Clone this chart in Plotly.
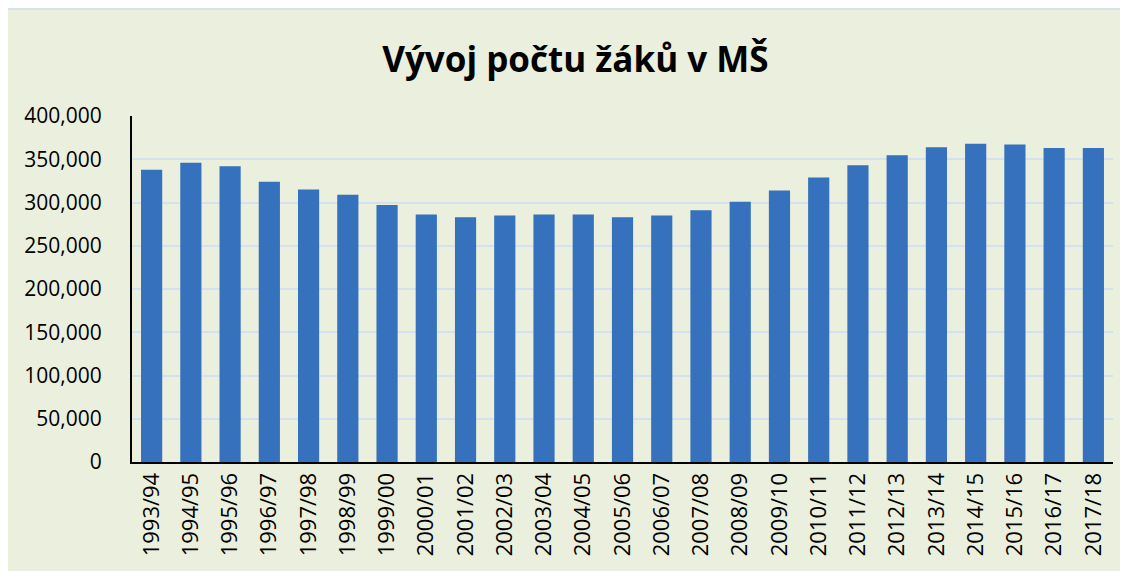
import plotly.graph_objects as go

# school years and number of pupils in kindergartens (MŠ)
years = ["1993/94", "1994/95", "1995/96", "1996/97", "1997/98", "1998/99", "1999/00",
         "2000/01", "2001/02", "2002/03", "2003/04", "2004/05", "2005/06", "2006/07",
         "2007/08", "2008/09", "2009/10", "2010/11", "2011/12", "2012/13", "2013/14",
         "2014/15", "2015/16", "2016/17", "2017/18"]
pupils = [338000, 346000, 342000, 324000, 315000, 309000, 297000,
          286000, 283000, 285000, 286000, 286000, 283000, 285000,
          291000, 301000, 314000, 329000, 343000, 354500, 364000,
          368000, 367000, 363000, 363000]
y_ticks = [0, 50000, 100000, 150000, 200000, 250000, 300000, 350000, 400000]

BG = "#EBEFDE"
FONT = "Open Sans"

fig = go.Figure()
fig.add_trace(go.Bar(
    x=years, y=pupils,
    marker=dict(color="#3571BC", line=dict(width=0)),
    hoverinfo="x+y",
))

# chart box (page-embedded chart frame)
fig.add_shape(type="rect", xref="paper", yref="paper", layer="below",
              x0=-0.1274, x1=1.05, y0=-0.4, y1=1.309,
              fillcolor=BG, line=dict(color="#D6E2F0", width=2))

fig.update_layout(
    width=1128, height=571,
    margin=dict(l=124, r=23, t=108, b=117),
    paper_bgcolor="white", plot_bgcolor=BG,
    title=dict(text="<b>Vývoj počtu žáků v MŠ</b>", x=0.503, xanchor="center",
               y=0.909, yanchor="middle",
               font=dict(family=FONT, size=35, color="black")),
    bargap=0.46,
    showlegend=False,
    font=dict(family=FONT, color="black"),
)
fig.update_xaxes(
    type="category", tickangle=-90, tickfont=dict(size=22),
    showline=True, linecolor="black", linewidth=2, ticks="", showgrid=False,
)
fig.update_yaxes(
    range=[0, 400000], tickvals=y_ticks, tickformat=",", tickfont=dict(size=21),
    showline=True, linecolor="black", linewidth=2, ticks="",
    gridcolor="#D5E1EF", gridwidth=2, zeroline=False, ticklabelstandoff=24,
)

fig.write_html("out.html")
